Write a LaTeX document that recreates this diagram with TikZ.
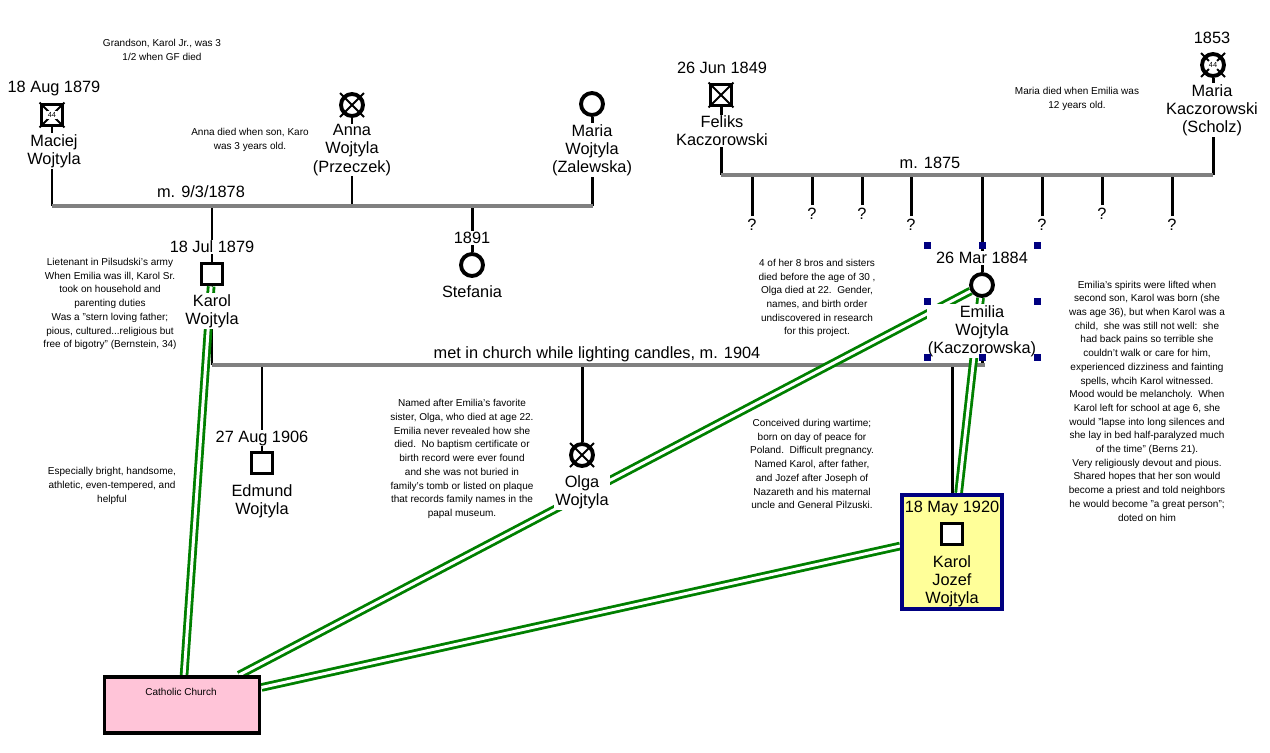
\documentclass[tikz,border=0pt]{standalone}
\usepackage{fontspec}
\setmainfont{Liberation Sans}
\usepackage{xcolor}
\usetikzlibrary{positioning, backgrounds}

\definecolor{relgreen}{RGB}{0,128,0}
\definecolor{selblue}{RGB}{0,0,128}
\definecolor{kjyellow}{RGB}{255,255,153}
\definecolor{churchpink}{RGB}{255,196,216}
\definecolor{linegray}{RGB}{128,128,128}

\newcommand{\namefont}{\fontsize{9.3}{10.3}\selectfont}
\newcommand{\notefont}{\fontsize{5.7}{7.8}\selectfont}
\newcommand{\agefont}{\fontsize{4.2}{5}\selectfont}

\tikzset{
    namebox/.style={font=\namefont, align=center, fill=white, inner sep=0.5pt},
    datebox/.style={font=\namefont, fill=white, inner sep=0.5pt},
    notebox/.style={font=\notefont, align=center, inner sep=0pt},
    male/.style={draw, line width=2.2pt, fill=white, minimum size=0.42cm, inner sep=0pt},
    female/.style={draw, circle, line width=2.2pt, fill=white, minimum size=0.44cm, inner sep=0pt},
    cross/.style={line width=1.1pt},
    agebox/.style={font=\agefont, fill=white, inner sep=0.6pt},
    stem/.style={line width=1.7pt},
    wed/.style={line width=2.3pt, color=linegray},
    bond/.style={draw=relgreen, double=white, line width=1.6pt, double distance=1.7pt},
    handle/.style={fill=selblue, minimum size=0.14cm, inner sep=0pt},
    kjframe/.style={draw=selblue, line width=2.2pt, fill=kjyellow, minimum width=2.0cm, minimum height=2.28cm},
    churchframe/.style={draw, line width=2.2pt, fill=churchpink, minimum width=3.1cm, minimum height=1.12cm}
}

\begin{document}
\begin{tikzpicture}[x=0.02cm, y=-0.02cm]
    \useasboundingbox (0,0) rectangle (1270,752);

    \node[notebox] (gnote) at (162,50) {Grandson, Karol Jr., was 3\\1/2 when GF died};
    \node[notebox] (anote) at (250,140) {Anna died when son, Karo\\was 3 years old.};
    \node[notebox] (mnote) at (1077,99) {Maria died when Emilia was\\12 years old.};

    \node[datebox] (maciejdate) at (54,88) {18 Aug 1879};
    \node[male] (maciej) at (52,115) {};
    \draw[cross] (maciej.north west) -- (maciej.south east) (maciej.north east) -- (maciej.south west);
    \node[agebox] (maciejage) at (maciej) {44};
    \node[namebox] (maciejname) at (54,151) {Maciej\\Wojtyla};

    \node[female] (anna) at (352,105) {};
    \draw[cross] (anna.center) ++(-12,-12) -- ++(24,24) (anna.center) ++(12,-12) -- ++(-24,24);
    \node[namebox] (annaname) at (352,150) {Anna\\Wojtyla\\(Przeczek)};

    \node[female] (mariaz) at (592,104) {};
    \node[namebox] (mariazname) at (592,150) {Maria\\Wojtyla\\(Zalewska)};

    \coordinate (m1l) at (52,206);
    \coordinate (m1r) at (593,206);
    \node[font=\namefont] (m1label) at (201,192) {m. 9/3/1878};

    \node[datebox] (karoldate) at (212,247) {18 Jul 1879};
    \node[male] (karol) at (212,274) {};
    \node[namebox] (karolname) at (212,311) {Karol\\Wojtyla};
    \node[notebox] (karolnote) at (110,304) {Lietenant in Pilsudski's army\\When Emilia was ill, Karol Sr.\\took on household and\\parenting duties\\Was a "stern loving father;\\pious, cultured...religious but\\free of bigotry" (Bernstein, 34)};

    \node[datebox] (stefaniadate) at (472,238) {1891};
    \node[female] (stefania) at (472,265) {};
    \node[namebox] (stefanianame) at (472,292) {Stefania};

    \node[datebox] (feliksdate) at (722,68) {26 Jun 1849};
    \node[male] (feliks) at (721,95) {};
    \draw[cross] (feliks.north west) -- (feliks.south east) (feliks.north east) -- (feliks.south west);
    \node[namebox] (feliksname) at (722,131) {Feliks\\Kaczorowski};

    \node[datebox] (mariakdate) at (1212,38) {1853};
    \node[female] (mariak) at (1213,65) {};
    \draw[cross] (mariak.center) ++(-12,-12) -- ++(24,24) (mariak.center) ++(12,-12) -- ++(-24,24);
    \node[agebox, circle, inner sep=0.4pt] (mariakage) at (mariak) {44};
    \node[namebox] (mariakname) at (1212,110) {Maria\\Kaczorowski\\(Scholz)};

    \coordinate (kl) at (721,175);
    \coordinate (kr) at (1213,175);
    \node[font=\namefont] (klabel) at (930,163) {m. 1875};

    \node[datebox] (emiliadate) at (982,258) {26 Mar 1884};
    \node[female] (emilia) at (982,285) {};
    \node[namebox] (emilianame) at (982,331) {Emilia\\Wojtyla\\(Kaczorowska)};
    \foreach \hx/\hy [count=\i] in {927/245, 982/245, 1037/245, 927/301, 1037/301, 927/357, 982/357, 1037/357}
        \node[handle] (handle\i) at (\hx,\hy) {};

    \node[notebox] (brosnote) at (817,298) {4 of her 8 bros and sisters\\died before the age of 30 ,\\Olga died at 22.\ \ Gender,\\names, and birth order\\undiscovered in research\\for this project.};
    \node[notebox] (emilianote) at (1147,401) {Emilia's spirits were lifted when\\second son, Karol was born (she\\was age 36), but when Karol was a\\child,\ \ she was still not well:\ \ she\\had back pains so terrible she\\couldn't walk or care for him,\\experienced dizziness and fainting\\spells, whcih Karol witnessed.\\Mood would be melancholy.\ \ When\\Karol left for school at age 6, she\\would "lapse into long silences and\\she lay in bed half-paralyzed much\\of the time" (Berns 21).\\Very religiously devout and pious.\\Shared hopes that her son would\\become a priest and told neighbors\\he would become "a great person";\\doted on him};

    \coordinate (el) at (212,365);
    \coordinate (er) at (985,365);
    \node[font=\namefont] (elabel) at (597,354) {met in church while lighting candles, m. 1904};

    \node[datebox] (edmunddate) at (262,438) {27 Aug 1906};
    \node[male] (edmund) at (262,463) {};
    \node[namebox] (edmundname) at (262,501) {Edmund\\Wojtyla};

    \node[female] (olga) at (582,455) {};
    \draw[cross] (olga.center) ++(-12,-12) -- ++(24,24) (olga.center) ++(12,-12) -- ++(-24,24);
    \node[namebox] (olganame) at (582,492) {Olga\\Wojtyla};
    \node[notebox] (olganote) at (462,459) {Named after Emilia's favorite\\sister, Olga, who died at age 22.\\Emilia never revealed how she\\died.\ \ No baptism certificate or\\birth record were ever found\\and she was not buried in\\family's tomb or listed on plaque\\that records family names in the\\papal museum.};

    \node[notebox] (conceivednote) at (812,464) {Conceived during wartime;\\born on day of peace for\\Poland.\ \ Difficult pregnancy.\\Named Karol, after father,\\and Jozef after Joseph of\\Nazareth and his maternal\\uncle and General Pilzuski.};
    \node[notebox] (brightnote) at (112,486) {Especially bright, handsome,\\athletic, even-tempered, and\\helpful};

    \node[kjframe] (kjbox) at (952,552) {};
    \node[font=\namefont] (kjdate) at (952,508) {18 May 1920};
    \node[male] (karoljozef) at (952,534) {};
    \node[font=\namefont, align=center, inner sep=0.5pt] (kjname) at (952,581) {Karol\\Jozef\\Wojtyla};

    \node[churchframe] (church) at (182,705) {};
    \node[notebox] (churchlabel) at (181,692) {Catholic Church};

    \foreach \qx/\qy [count=\i] in {752/225, 812/214, 862/214, 911/225, 1042/225, 1102/214, 1172/225}
        \node[datebox] (sib\i) at (\qx,\qy) {?};

    \begin{pgfonlayer}{background}
        \draw[stem]
        (maciej) -- (maciej |- m1l)
        (anna) -- (anna |- m1l)
        (mariaz) -- (mariaz |- m1l)
        (karol) -- (karol |- m1l)
        (stefania) -- (stefania |- m1l)
        (karol) -- (karol |- el)
        (feliks) -- (feliks |- kl)
        (mariak) -- (mariak |- kl)
        (emilia) -- (emilia |- kl)
        (emilia) -- (emilia |- el)
        (edmund) -- (edmund |- el)
        (olga) -- (olga |- el)
        (kjbox) -- (kjbox |- el);
        \foreach \i in {1,...,7}
            \draw[stem] ([yshift=0.04cm]sib\i.north) -- (sib\i |- kl);
        \draw[wed]
        (m1l) -- (m1r)
        (kl) -- (kr)
        (el) -- (er);
        \draw[bond] (karol) -- (church);
        \draw[bond] (emilia) -- (church);
        \draw[bond] (emilia) -- (kjbox);
        \draw[bond] (church) -- ([yshift=0.12cm]kjbox.west);
    \end{pgfonlayer}
\end{tikzpicture}
\end{document}
